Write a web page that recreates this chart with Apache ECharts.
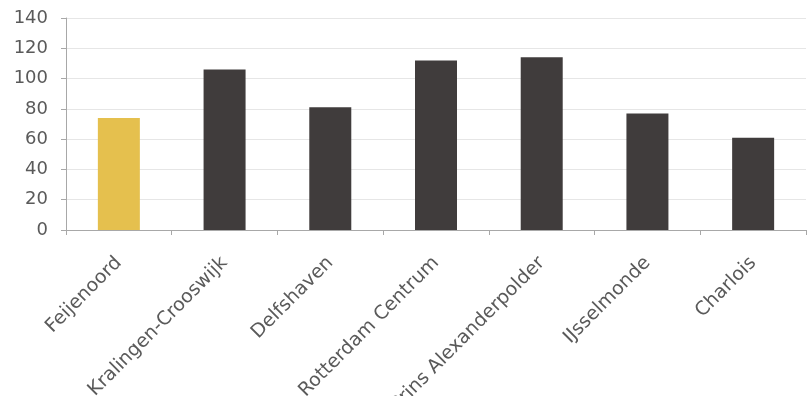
<!DOCTYPE html>
<html><head><meta charset="utf-8">
<script src="https://cdn.jsdelivr.net/npm/echarts@6/dist/echarts.min.js"></script>
<style>html,body{margin:0;padding:0;background:#fff}#c{width:807px;height:396px}</style>
</head><body><div id="c"></div>
<script>
const categories = ["Feijenoord","Kralingen-Crooswijk","Delfshaven","Rotterdam Centrum","Prins Alexanderpolder","IJsselmonde","Charlois"];
const values = [74,106,81,112,114,77,61];
const highlight = "Feijenoord";
const chart = echarts.init(document.getElementById('c'));
chart.setOption({
  animation:false,
  grid:{left:66,right:1,top:18,bottom:166,containLabel:false,outerBoundsMode:'none'},
  xAxis:{type:'category',data:categories,
    axisLine:{lineStyle:{color:'#a8a8a8',width:1}},
    axisTick:{show:true,length:5,lineStyle:{color:'#a8a8a8'}},
    axisLabel:{rotate:45,fontFamily:'DejaVu Sans',fontSize:19,color:'#5a5a5a',margin:30}},
  yAxis:{type:'value',min:0,max:140,interval:20,
    axisLine:{show:true,lineStyle:{color:'#a8a8a8'}},
    axisTick:{show:true,length:5,lineStyle:{color:'#a8a8a8'}},
    splitLine:{lineStyle:{color:'#e6e6e6'}},
    axisLabel:{fontFamily:'DejaVu Sans',fontSize:18,color:'#5a5a5a',margin:18}},
  series:[{type:'bar',barWidth:42,
    data:values.map((v,i)=>({value:v,itemStyle:{color:categories[i]===highlight?'#E5C04E':'#403C3C'}}))}]
});
</script></body></html>
